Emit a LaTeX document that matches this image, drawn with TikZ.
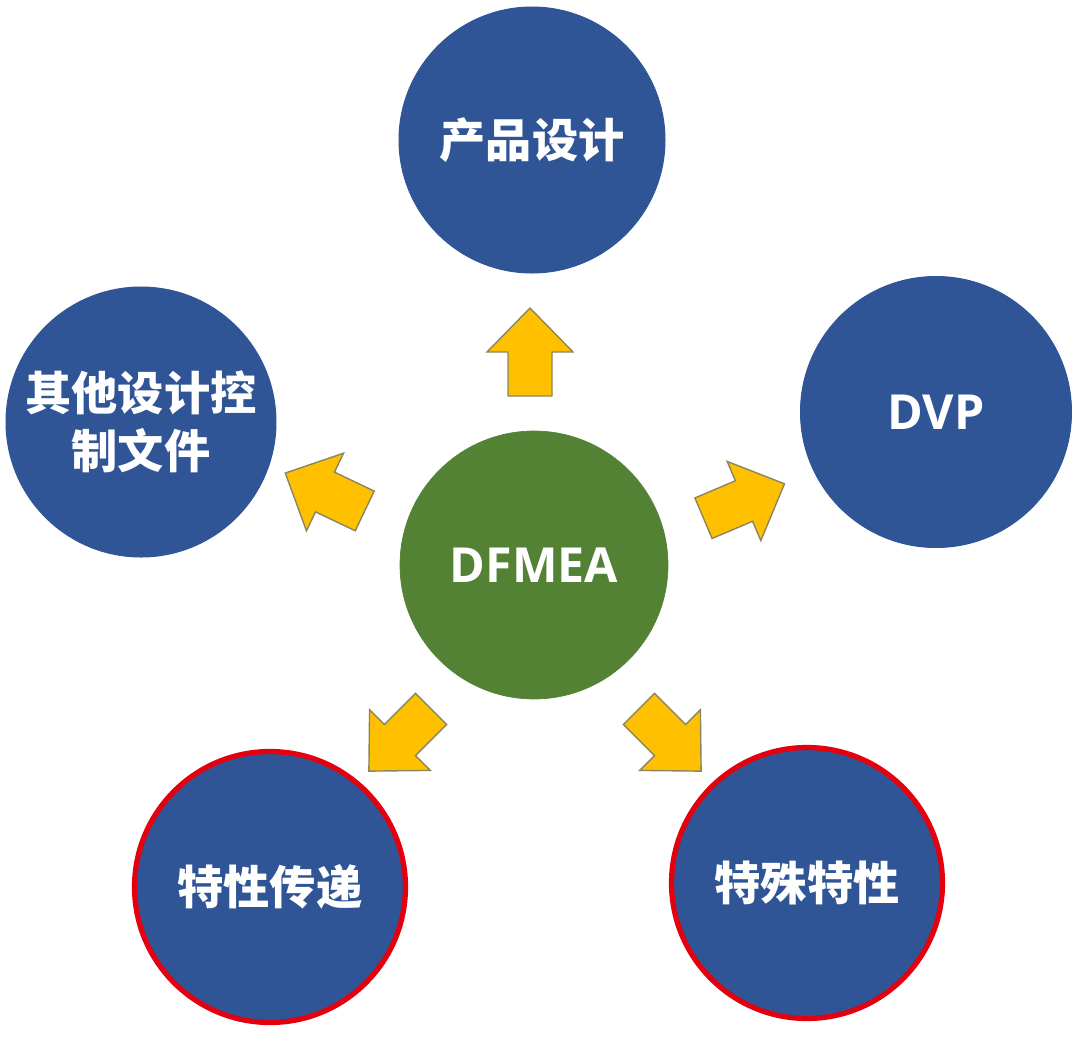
\documentclass[tikz,border=0pt]{standalone}
\usepackage{fontspec}
\setmainfont{Noto Sans CJK SC}
\newfontfamily\latfont{Open Sans}
\definecolor{cblue}{HTML}{2F5597}
\definecolor{cgreen}{HTML}{548235}
\definecolor{cyellow}{HTML}{FFC000}
\definecolor{cline}{HTML}{8A8660}
\definecolor{cred}{HTML}{E3000F}
\begin{document}
\begin{tikzpicture}[x=0.02cm,y=-0.02cm,
  bubble/.style={circle, fill=cblue, draw=cblue, line width=0.6pt, inner sep=0pt,
    text=white, font=\bfseries\fontsize{26.3}{33}\selectfont, align=center},
  redring/.style={draw=cred, line width=3pt},
  latin/.style={font=\latfont\bfseries\fontsize{27.5}{32}\selectfont},
  hub/.style={circle, fill=cgreen, draw=cgreen, inner sep=0pt, minimum size=5.36cm,
    text=white, latin},
  blockarrow/.style={fill=cyellow, draw=cline, line width=0.8pt, line join=miter}]
\useasboundingbox (0,0) rectangle (1080,1039);
\fill[white] (0,0) rectangle (1080,1039);

\node[hub] (dfmea) at (534,565) {DFMEA};
\node[bubble, minimum size=5.32cm] (design) at (532,140) {产品设计};
\node[bubble, minimum size=5.42cm, latin] (dvp) at (936,412) {DVP};
\node[bubble, minimum size=5.40cm] (other) at (141,422) {其他设计控\\制文件};
\node[bubble, redring, minimum size=5.42cm] (trans) at (270,887) {特性传递};
\node[bubble, redring, minimum size=5.42cm] (special) at (807,883) {特殊特性};

\foreach \cx/\cy/\ang in {530/352/90, 325/492/154.5, 744/501/23, 400/740/225, 670/740/-45}{
  \draw[blockarrow, shift={(\cx,\cy)}, rotate=\ang]
    (-44,-22) -- (0,-22) -- (0,-43) -- (44,0) -- (0,43) -- (0,22) -- (-44,22) -- cycle;
}
\end{tikzpicture}
\end{document}
